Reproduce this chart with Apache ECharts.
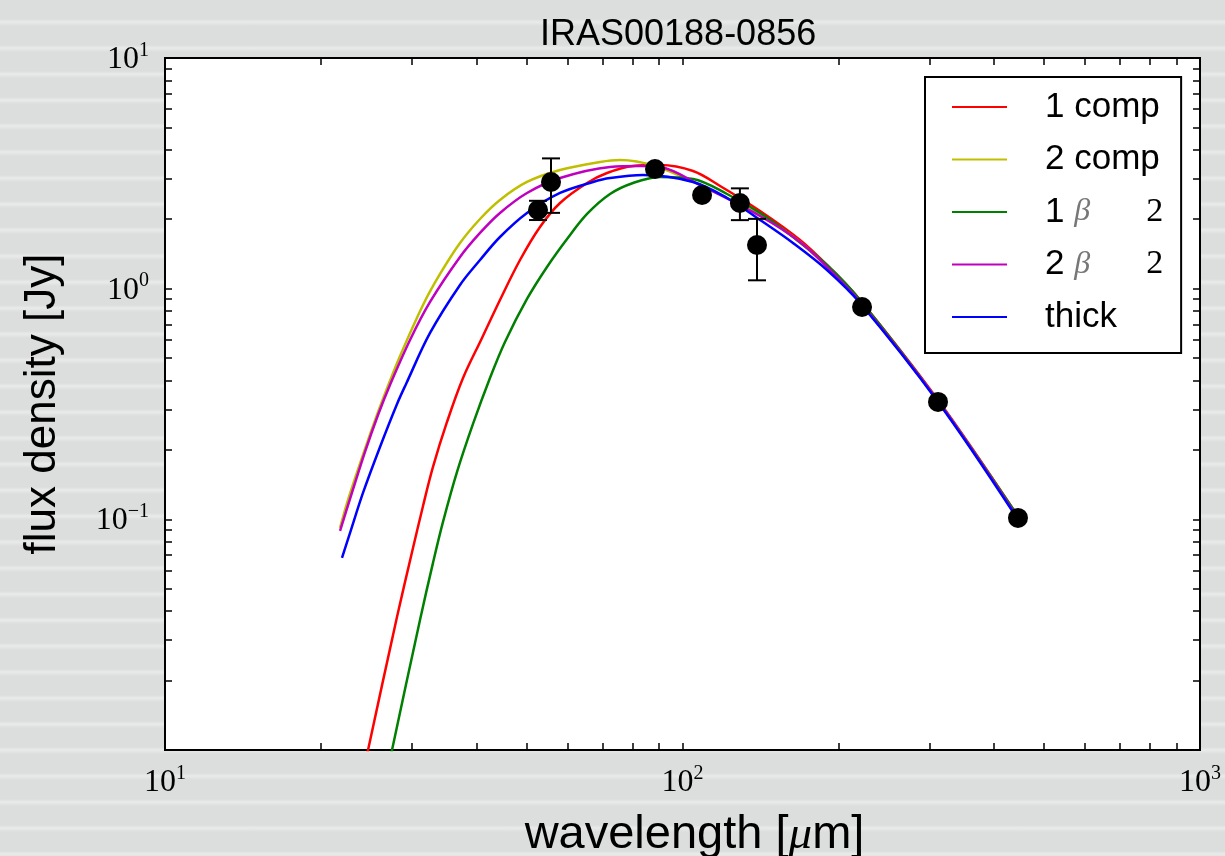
<!DOCTYPE html>
<html>
<head>
<meta charset="utf-8">
<script src="https://cdn.jsdelivr.net/npm/echarts@6/dist/echarts.min.js"></script>
<style>
html, body { margin: 0; padding: 0; }
body {
    background: repeating-linear-gradient(180deg, #dcdede 0px, #dcdede 19px, #e9eaea 22px, #dcdede 26px);
}
#chart { width: 1225px; height: 856px; }
</style>
</head>
<body>
<div id="chart"></div>
<script>
// model fits, wavelength [micron] / flux density [Jy]
const comp1Lam = [23.29, 24.68, 28.08, 30.02, 31.52, 32.95, 35.07, 37.66, 40.98, 44.39, 48.53, 53.04, 57.99, 65.40, 71.47, 80.25, 90.48, 104.8, 118.2, 141.2, 168.7, 192.8, 220.3, 311.7, 439.1];
const comp1Flux = [0.00539, 0.0100, 0.0378, 0.07222, 0.1143, 0.1687, 0.2643, 0.4101, 0.6114, 0.8933, 1.331, 1.851, 2.352, 2.872, 3.173, 3.403, 3.437, 3.237, 2.787, 2.172, 1.626, 1.229, 0.8933, 0.3293, 0.1076];

const comp2Lam = [21.79, 22.58, 24.35, 25.68, 26.97, 28.46, 31.52, 34.00, 37.16, 40.62, 44.39, 50.06, 57.99, 69.30, 75.74, 88.49, 108.1, 141.2, 168.7, 192.8, 220.3, 311.7, 439.1];
const comp2Flux = [0.09177, 0.1214, 0.2019, 0.2835, 0.3787, 0.5109, 0.8499, 1.158, 1.578, 2.005, 2.424, 2.901, 3.269, 3.542, 3.613, 3.403, 2.815, 2.087, 1.594, 1.205, 0.8758, 0.3260, 0.1065];

const beta1Lam = [26.03, 27.46, 31.10, 32.95, 34.45, 36.67, 39.37, 42.46, 45.39, 50.06, 54.72, 59.83, 65.40, 72.44, 80.25, 90.48, 104.8, 121.9, 141.2, 163.5, 190.2, 220.3, 311.7, 439.1];
const beta1Flux = [0.00556, 0.0100, 0.03664, 0.06474, 0.09744, 0.1606, 0.2592, 0.4101, 0.5875, 0.9023, 1.242, 1.642, 2.108, 2.573, 2.872, 3.049, 2.988, 2.573, 2.129, 1.675, 1.267, 0.8933, 0.3260, 0.1076];

const beta2Lam = [21.79, 22.78, 24.35, 25.80, 27.21, 29.75, 32.52, 37.16, 40.62, 44.39, 50.06, 57.99, 72.44, 82.78, 90.48, 108.1, 141.2, 168.7, 192.8, 220.3, 311.7, 439.1];
const beta2Flux = [0.0891, 0.1226, 0.1960, 0.2834, 0.3825, 0.5993, 0.8758, 1.372, 1.744, 2.129, 2.599, 3.018, 3.369, 3.403, 3.369, 2.815, 2.066, 1.594, 1.205, 0.8758, 0.3260, 0.1055];

const thickLam = [21.98, 22.78, 24.13, 26.03, 28.08, 29.23, 32.52, 37.16, 40.62, 44.39, 50.06, 57.99, 67.17, 72.44, 83.90, 104.8, 121.9, 141.2, 163.5, 190.2, 220.3, 311.7, 439.1];
const thickFlux = [0.0680, 0.0873, 0.1302, 0.2060, 0.3164, 0.3863, 0.6427, 1.038, 1.331, 1.675, 2.129, 2.599, 2.901, 3.018, 3.110, 2.901, 2.473, 1.986, 1.578, 1.205, 0.8670, 0.3228, 0.1044];

// photometry
const obsLam = [52.58, 55.71, 88.49, 109.1, 129.1, 139.3, 222.3, 311.7, 444.9];
const obsFlux = [2.194, 2.901, 3.303, 2.548, 2.352, 1.547, 0.8330, 0.3228, 0.1014];
const obsErr = [0.21, 0.77, 0, 0, 0.37, 0.46, 0, 0, 0];

// axes
const xLabelVals = [10, 100, 1000];
const yLabelVals = [0.1, 1, 10];
const xTickVals = [20, 30, 40, 50, 60, 70, 80, 90, 100, 200, 300, 400, 500, 600, 700, 800, 900];
const yTickVals = [0.02, 0.03, 0.04, 0.05, 0.06, 0.07, 0.08, 0.09, 0.1, 0.2, 0.3, 0.4, 0.5, 0.6, 0.7, 0.8, 0.9, 1, 2, 3, 4, 5, 6, 7, 8, 9];

const curves = [
    { name: '1 comp', color: '#ff0000', lam: comp1Lam, flux: comp1Flux },
    { name: '2 comp', color: '#bfbf00', lam: comp2Lam, flux: comp2Flux },
    { name: '1 β 2', color: '#008000', lam: beta1Lam, flux: beta1Flux },
    { name: '2 β 2', color: '#bf00bf', lam: beta2Lam, flux: beta2Flux },
    { name: 'thick', color: '#0000ff', lam: thickLam, flux: thickFlux },
];

const serif = 'Liberation Serif';
const sans = 'Liberation Sans';

function powLabel(v) {
    const e = Math.round(Math.log10(v));
    return '{b|10}{s|' + (e < 0 ? '−' + (-e) : e) + '}';
}
const powRich = {
    b: { fontFamily: serif, fontSize: 32, color: '#000', verticalAlign: 'bottom' },
    s: { fontFamily: serif, fontSize: 20, color: '#000', verticalAlign: 'bottom', padding: [0, 0, 15, 0] },
};

function axis(kind, pos, withLabels) {
    const isX = kind === 'x';
    return {
        type: 'log',
        logBase: 10,
        position: pos,
        min: isX ? 10 : 0.01,
        max: isX ? 1000 : 10,
        axisLine: { show: false },
        splitLine: { show: false },
        minorTick: { show: false },
        axisTick: {
            show: true,
            inside: true,
            length: 7,
            customValues: isX ? xTickVals : yTickVals,
            lineStyle: { color: '#000', width: 1.5 },
        },
        axisLabel: withLabels ? {
            show: true,
            customValues: isX ? xLabelVals : yLabelVals,
            formatter: powLabel,
            rich: powRich,
            margin: isX ? 14 : 16,
            showMinLabel: true,
            showMaxLabel: true,
        } : { show: false },
    };
}

const xMain = axis('x', 'bottom', true);
xMain.name = '{a|wavelength [}{mu|μ}{a|m]}';
xMain.nameLocation = 'middle';
xMain.nameGap = 62;
xMain.nameTextStyle = {
    padding: [0, 0, 0, 24],
    rich: {
        a: { fontFamily: sans, fontSize: 47, color: '#000' },
        mu: { fontFamily: serif, fontStyle: 'italic', fontSize: 47, color: '#000' },
    },
};

const yMain = axis('y', 'left', true);
yMain.name = 'flux density [Jy]';
yMain.nameLocation = 'middle';
yMain.nameGap = 100;
yMain.nameTextStyle = { fontFamily: sans, fontSize: 44, color: '#000' };

const legendText = {
    '1 β 2': '1 {g|β}{sp|}{m|2}',
    '2 β 2': '2 {g|β}{sp|}{m|2}',
};

const chart = echarts.init(document.getElementById('chart'), null, { renderer: 'canvas' });

chart.setOption({
    backgroundColor: 'transparent',
    animation: false,
    title: {
        text: 'IRAS00188-0856',
        left: 535,
        top: 12,
        textStyle: { fontFamily: sans, fontSize: 36, fontWeight: 'normal', color: '#000' },
    },
    grid: {
        left: 165,
        right: 25,
        top: 58,
        bottom: 106,
        outerBoundsMode: 'none',
        containLabel: false,
        show: true,
        backgroundColor: '#ffffff',
        borderColor: '#000',
        borderWidth: 2,
    },
    legend: {
        orient: 'vertical',
        left: 925,
        top: 77,
        padding: [10, 18, 16, 27],
        backgroundColor: '#ffffff',
        borderColor: '#000',
        borderWidth: 2,
        borderRadius: 0,
        icon: 'rect',
        itemWidth: 55,
        itemHeight: 2,
        itemGap: 12.5,
        data: curves.map((c) => c.name),
        formatter: (n) => legendText[n] || n,
        textStyle: {
            fontFamily: sans,
            fontSize: 35,
            color: '#000',
            lineHeight: 40,
            padding: [0, 0, 0, 33],
            rich: {
                g: { fontFamily: serif, fontStyle: 'italic', fontSize: 32, color: '#777', lineHeight: 40 },
                sp: { width: 56 },
                m: { fontFamily: serif, fontSize: 34, color: '#000', lineHeight: 40 },
            },
        },
    },
    xAxis: [xMain, axis('x', 'top', false)],
    yAxis: [yMain, axis('y', 'right', false)],
    series: [
        ...curves.map((c) => ({
            type: 'line',
            name: c.name,
            data: c.lam.map((x, i) => [x, c.flux[i]]),
            xAxisIndex: 0,
            yAxisIndex: 0,
            symbol: 'none',
            showSymbol: false,
            smooth: 0.35,
            lineStyle: { color: c.color, width: 2.5 },
            itemStyle: { color: c.color },
            z: 2,
            silent: true,
        })),
        {
            type: 'custom',
            name: 'errors',
            xAxisIndex: 0,
            yAxisIndex: 0,
            data: obsLam.map((x, i) => [x, obsFlux[i], obsErr[i]]),
            encode: { x: 0, y: 1 },
            z: 3,
            silent: true,
            renderItem: (params, api) => {
                const x = api.value(0);
                const y = api.value(1);
                const e = api.value(2);
                if (!e) return { type: 'group', children: [] };
                const top = api.coord([x, y + e]);
                const bot = api.coord([x, y - e]);
                const w = 9;
                const st = { stroke: '#000', lineWidth: 2 };
                return {
                    type: 'group',
                    children: [
                        { type: 'line', shape: { x1: top[0], y1: top[1], x2: bot[0], y2: bot[1] }, style: st },
                        { type: 'line', shape: { x1: top[0] - w, y1: top[1], x2: top[0] + w, y2: top[1] }, style: st },
                        { type: 'line', shape: { x1: bot[0] - w, y1: bot[1], x2: bot[0] + w, y2: bot[1] }, style: st },
                    ],
                };
            },
        },
        {
            type: 'scatter',
            name: 'data',
            xAxisIndex: 0,
            yAxisIndex: 0,
            data: obsLam.map((x, i) => [x, obsFlux[i]]),
            symbol: 'circle',
            symbolSize: 20,
            itemStyle: { color: '#000', opacity: 1 },
            z: 4,
            silent: true,
        },
    ],
});
</script>
</body>
</html>
